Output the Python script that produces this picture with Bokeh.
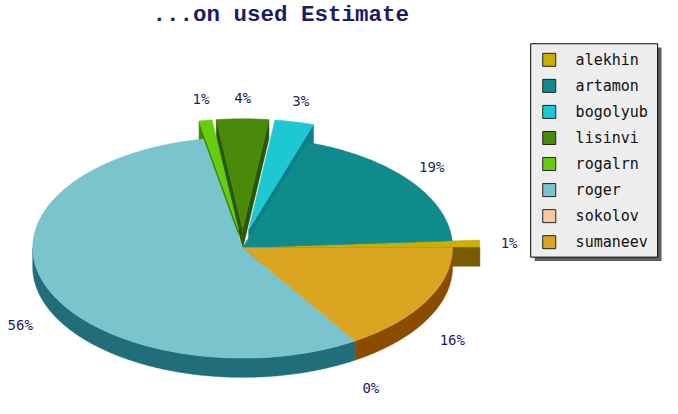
import numpy as np
from bokeh.plotting import figure
from bokeh.models import Range1d, ColumnDataSource
from bokeh.core.properties import value
from bokeh.embed import file_html
from bokeh.resources import INLINE

# ---- data ----
names = ["alekhin", "artamon", "bogolyub", "lisinvi", "rogalrn", "roger", "sokolov", "sumaneev"]
values = [1, 19, 3, 4, 1, 56, 0, 16]
title = "...on used Estimate"

# ---- style ----
exploded = [True, False, True, True, True, False, False, False]
top_colors = ["#cdad00", "#0f8b8b", "#1ec8d2", "#4a8a0a", "#66cc11", "#7ac5cd", "#f8c8a0", "#daa520"]
side_colors = ["#7a5a00", "#055a5a", "#0a8088", "#2a5600", "#3d8800", "#1f6e7a", "#b08050", "#8b4c00"]
label_color = "#1c1c64"

CX, CY = 248.0, 257.0
A, B = 215.0, 115.0
DEPTH = 20.0
EXX, EXY = 28.0, 19.0

p = figure(width=662, height=398, x_range=Range1d(0, 678), y_range=Range1d(414, 0),
           output_backend="svg", toolbar_location=None, min_border=0,
           x_axis_location=None, y_axis_location=None)
p.grid.visible = False
p.outline_line_color = None
p.background_fill_color = "white"

total = float(sum(values))
fr = np.array(values, dtype=float) / total
ends = np.cumsum(fr) * 2 * np.pi
starts = ends - fr * 2 * np.pi
n = len(values)

offs = []
for i in range(n):
    m = 0.5 * (starts[i] + ends[i])
    if exploded[i]:
        offs.append((CX + EXX * np.cos(m), CY - EXY * np.sin(m)))
    else:
        offs.append((CX, CY))

def rim(cx, cy, t1, t2, dz=0.0):
    k = max(3, int(abs(t2 - t1) / 0.01))
    t = np.linspace(t1, t2, k)
    return list(cx + A * np.cos(t)), list(cy - B * np.sin(t) + dz)

# cut faces
faces = []
for i in range(n):
    if values[i] <= 0:
        continue
    cx, cy = offs[i]
    prev_i = (i - 1) % n
    next_i = (i + 1) % n
    for t, vis, nb in ((starts[i], np.cos(starts[i]) > 1e-9, prev_i),
                       (ends[i], np.cos(ends[i]) < -1e-9, next_i)):
        if vis and (exploded[i] or exploded[nb]):
            rx, ry = cx + A * np.cos(t), cy - B * np.sin(t)
            faces.append((np.sin(t), [cx, rx, rx, cx], [cy, ry, ry + DEPTH, cy + DEPTH], side_colors[i]))
faces.sort(key=lambda f: -f[0])
if faces:
    src = ColumnDataSource(dict(xs=[f[1] for f in faces], ys=[f[2] for f in faces],
                                c=[f[3] for f in faces]))
    p.patches("xs", "ys", source=src, fill_color="c", line_color="c", line_width=0.5)

# outer walls (front half)
wx, wy, wc = [], [], []
for i in range(n):
    if values[i] <= 0:
        continue
    cx, cy = offs[i]
    t1 = max(starts[i], np.pi)
    t2 = min(ends[i], 2 * np.pi)
    if t2 > t1:
        xt, yt = rim(cx, cy, t1, t2)
        xb, yb = rim(cx, cy, t1, t2, DEPTH)
        wx.append(xt + xb[::-1])
        wy.append(yt + yb[::-1])
        wc.append(side_colors[i])
p.patches(xs=wx, ys=wy, fill_color=wc, line_color=wc, line_width=0.5)

# tops
tx, ty, tc = [], [], []
for i in range(n):
    if values[i] <= 0:
        continue
    cx, cy = offs[i]
    xr, yr = rim(cx, cy, starts[i], ends[i])
    tx.append([cx] + xr)
    ty.append([cy] + yr)
    tc.append(top_colors[i])
p.patches(xs=tx, ys=ty, fill_color=tc, line_color=tc, line_width=0.5)

# percentage labels
lx, ly, lt = [], [], []
for i in range(n):
    m = 0.5 * (starts[i] + ends[i])
    cx, cy = offs[i]
    s = np.sin(m)
    lx.append(cx + (A + 30) * np.cos(m))
    ly.append(cy - (B + 22) * s + (30 if s < 0 else 0))
    lt.append("%d%%" % round(values[i] / total * 100))
p.text(x=lx, y=ly, text=lt, text_font=value("DejaVu Sans Mono"), text_font_size="14px",
       text_color=label_color, text_align="center", text_baseline="middle")

# title
p.text(x=[287], y=[15], text=[title], text_font=value("Liberation Mono"), text_font_size="22.5px",
       text_font_style="bold", text_color=label_color, text_align="center", text_baseline="middle")

# legend
L, R, T, Bt = 543, 673, 45, 267
p.quad(left=[L + 4], right=[R + 4], top=[T + 4], bottom=[Bt + 4], fill_color="#606060", line_color=None)
p.quad(left=[L], right=[R], top=[T], bottom=[Bt], fill_color="#eeeeee", line_color="black", line_width=1)
ey0, dy = 61.7, 27.1
leg_y = [ey0 + dy * i for i in range(n)]
p.rect(x=[562] * n, y=leg_y, width=13, height=13, width_units="screen", height_units="screen",
       fill_color=top_colors, line_color="#222222", line_width=1)
p.text(x=[589] * n, y=leg_y, text=names, text_font=value("DejaVu Sans Mono"), text_font_size="15px",
       text_color="#111111", text_align="left", text_baseline="middle")

open("out.html", "w").write(file_html(p, INLINE))
